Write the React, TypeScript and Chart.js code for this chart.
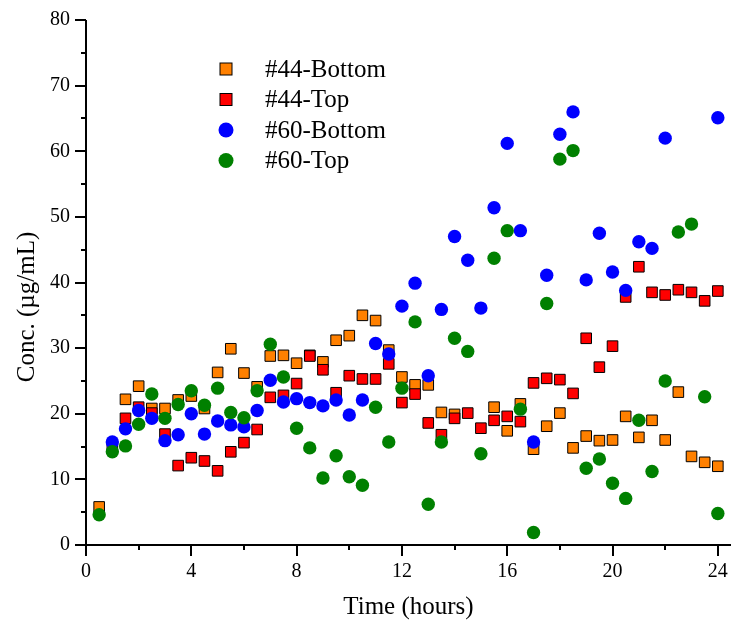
import React, { useEffect, useRef } from "react";
import { Chart, registerables } from "chart.js";

Chart.register(...registerables);

const times = [
  0.5, 1, 1.5, 2, 2.5, 3, 3.5, 4, 4.5, 5, 5.5, 6, 6.5, 7, 7.5, 8,
  8.5, 9, 9.5, 10, 10.5, 11, 11.5, 12, 12.5, 13, 13.5, 14, 14.5, 15, 15.5, 16,
  16.5, 17, 17.5, 18, 18.5, 19, 19.5, 20, 20.5, 21, 21.5, 22, 22.5, 23, 23.5, 24,
];

const bottom44 = [
  5.8, 15.0, 22.2, 24.2, 20.8, 20.8, 22.1, 22.7, 20.8, 26.3, 29.9, 26.2, 24.1, 28.8, 28.9, 27.7,
  28.9, 27.9, 31.2, 31.9, 35.0, 34.2, 29.7, 25.6, 24.4, 24.4, 20.2, 19.9, null, null, 21.0, 17.4,
  21.5, 14.6, 18.1, 20.1, 14.8, 16.6, 15.9, 16.0, 19.6, 16.4, 19.0, 16.0, 23.3, 13.5, 12.6, 12.0,
];

const top44 = [
  null, null, 19.3, 21.0, 20.1, 16.9, 12.1, 13.3, 12.8, 11.3, 14.2, 15.6, 17.6, 22.5, 22.8, 24.6,
  28.8, 26.7, 23.2, 25.8, 25.3, 25.3, 27.6, 21.7, 23.0, 18.6, 16.8, 19.3, 20.1, 17.8, 19.0, 19.6,
  18.8, 24.7, 25.4, 25.2, 23.1, 31.5, 27.1, 30.3, 37.8, 42.4, 38.5, 38.1, 38.9, 38.5, 37.2, 38.7,
];

const bottom60 = [
  null, 15.7, 17.7, 20.5, 19.3, 15.9, 16.8, 20.0, 16.9, 18.9, 18.3, 18.0, 20.5, 25.1, 21.8, 22.3,
  21.7, 21.2, 22.1, 19.8, 22.1, 30.7, 29.1, 36.4, 39.9, 25.8, 35.9, 47.0, 43.4, 36.1, 51.4, 61.2,
  47.9, 15.7, 41.1, 62.6, 66.0, 40.4, 47.5, 41.6, 38.8, 46.2, 45.2, 62.0, null, null, null, 65.1,
];

const top60 = [
  4.6, 14.2, 15.1, 18.4, 23.0, 19.3, 21.4, 23.5, 21.3, 23.9, 20.2, 19.4, 23.5, 30.6, 25.6, 17.8,
  14.8, 10.2, 13.6, 10.4, 9.1, 21.0, 15.7, 23.9, 34.0, 6.2, 15.7, 31.5, 29.5, 13.9, 43.7, 47.9,
  20.7, 1.9, 36.8, 58.8, 60.1, 11.7, 13.1, 9.4, 7.1, 19.0, 11.2, 25.0, 47.7, 48.9, 22.6, 4.8,
];

const seriesNames = ["#44-Bottom", "#44-Top", "#60-Bottom", "#60-Top"];
const seriesColors = ["#FF8000", "#FF0000", "#0000FF", "#008000"];
const seriesStyles = ["rect", "rect", "circle", "circle"];

const xTickMajor = [0, 4, 8, 12, 16, 20, 24];
const xTickMinor = [2, 6, 10, 14, 18, 22];
const yTickMajor = [0, 10, 20, 30, 40, 50, 60, 70, 80];
const yTickMinor = [5, 15, 25, 35, 45, 55, 65, 75];

const xTitle = "Time (hours)";
const yTitle = "Conc. (\u00b5g/mL)";

const FONT = '"Liberation Serif", "Times New Roman", serif';

function toPoints(values: (number | null)[]) {
  const pts: { x: number; y: number }[] = [];
  values.forEach((v, i) => {
    if (v !== null) pts.push({ x: times[i], y: v });
  });
  return pts;
}

const axesPlugin = {
  id: "originAxes",
  afterDraw(chart: any) {
    const ctx = chart.ctx;
    const xs = chart.scales.x;
    const ys = chart.scales.y;
    const area = chart.chartArea;
    ctx.save();
    ctx.strokeStyle = "#000";
    ctx.lineWidth = 2;
    ctx.lineCap = "butt";
    ctx.beginPath();
    ctx.moveTo(area.left, area.top);
    ctx.lineTo(area.left, area.bottom + 1);
    ctx.moveTo(area.left - 1, area.bottom);
    ctx.lineTo(area.right, area.bottom);
    ctx.stroke();
    ctx.beginPath();
    xTickMajor.forEach((v) => {
      const px = Math.round(xs.getPixelForValue(v));
      ctx.moveTo(px, area.bottom);
      ctx.lineTo(px, area.bottom + 11);
    });
    xTickMinor.forEach((v) => {
      const px = Math.round(xs.getPixelForValue(v));
      ctx.moveTo(px, area.bottom);
      ctx.lineTo(px, area.bottom + 5);
    });
    yTickMajor.forEach((v) => {
      const py = Math.round(ys.getPixelForValue(v));
      ctx.moveTo(area.left, py);
      ctx.lineTo(area.left - 11, py);
    });
    yTickMinor.forEach((v) => {
      const py = Math.round(ys.getPixelForValue(v));
      ctx.moveTo(area.left, py);
      ctx.lineTo(area.left - 5, py);
    });
    ctx.stroke();

    // y-axis title
    ctx.translate(27, 307);
    ctx.rotate(-Math.PI / 2);
    ctx.fillStyle = "#000";
    ctx.font = `25px ${FONT}`;
    ctx.textAlign = "center";
    ctx.textBaseline = "middle";
    ctx.fillText(yTitle, 0, 0);
    ctx.restore();
  },
};

const legendPlugin = {
  id: "insideLegend",
  afterDatasetsDraw(chart: any) {
    const ctx = chart.ctx;
    const rowsY = [69, 99.5, 130, 160.5];
    const markerX = 226;
    const textX = 265;
    ctx.save();
    chart.data.datasets.forEach((ds: any, i: number) => {
      const y = rowsY[i];
      ctx.fillStyle = ds.backgroundColor;
      if (ds.pointStyle === "rect") {
        const s = 12;
        ctx.fillRect(markerX - s / 2, y - s / 2, s, s);
        ctx.strokeStyle = "#000";
        ctx.lineWidth = 1;
        ctx.strokeRect(markerX - s / 2, y - s / 2, s, s);
      } else {
        ctx.beginPath();
        ctx.arc(markerX, y, 7.5, 0, Math.PI * 2);
        ctx.fill();
      }
      ctx.fillStyle = "#000";
      ctx.font = `25px ${FONT}`;
      ctx.textAlign = "left";
      ctx.textBaseline = "middle";
      ctx.fillText(ds.label, textX, y + 1);
    });
    ctx.restore();
  },
};

function zeroPadding(scale: any) {
  scale.paddingTop = 0;
  scale.paddingBottom = 0;
  scale.paddingLeft = 0;
  scale.paddingRight = 0;
}

export default function App() {
  const canvasRef = useRef<HTMLCanvasElement | null>(null);

  useEffect(() => {
    const canvas = canvasRef.current;
    if (!canvas) return;
    const seriesValues = [bottom44, top44, bottom60, top60];
    const datasets = seriesValues.map((vals, i) => ({
      label: seriesNames[i],
      data: toPoints(vals),
      pointStyle: seriesStyles[i],
      backgroundColor: seriesColors[i],
      borderColor: seriesStyles[i] === "rect" ? "#000" : seriesColors[i],
      pointBackgroundColor: seriesColors[i],
      pointBorderColor: seriesStyles[i] === "rect" ? "#000" : seriesColors[i],
      pointBorderWidth: seriesStyles[i] === "rect" ? 1 : 0,
      pointRadius: seriesStyles[i] === "rect" ? 7.5 : 6.7,
      pointHoverRadius: seriesStyles[i] === "rect" ? 7.5 : 6.7,
      showLine: false,
      clip: false,
      order: 4 - i,
    }));

    const chart = new Chart(canvas, {
      type: "scatter",
      data: { datasets },
      options: {
        animation: false,
        responsive: false,
        maintainAspectRatio: false,
        events: [],
        layout: { autoPadding: false, padding: { left: 0, right: 2, top: 20, bottom: 0 } },
        plugins: {
          legend: { display: false },
          tooltip: { enabled: false },
        },
        scales: {
          x: {
            type: "linear",
            min: 0,
            max: 24.5,
            grid: { display: false, drawTicks: false },
            border: { display: false },
            ticks: {
              stepSize: 4,
              includeBounds: false,
              autoSkip: false,
              maxRotation: 0,
              padding: 15,
              color: "#000",
              font: { family: FONT, size: 20 },
              callback: (v: any) => (xTickMajor.includes(Number(v)) ? String(v) : ""),
            },
            title: {
              display: true,
              text: xTitle,
              color: "#000",
              font: { family: FONT, size: 25 },
              padding: { top: 0, bottom: 2 },
            },
            afterFit: (scale: any) => {
              scale.height = 79;
              zeroPadding(scale);
            },
          },
          y: {
            type: "linear",
            min: 0,
            max: 80,
            grid: { display: false, drawTicks: false },
            border: { display: false },
            ticks: {
              stepSize: 10,
              autoSkip: false,
              padding: 16,
              color: "#000",
              font: { family: FONT, size: 20 },
            },
            afterFit: (scale: any) => {
              scale.width = 86;
              zeroPadding(scale);
            },
          },
        },
      },
      plugins: [axesPlugin, legendPlugin],
    });

    return () => {
      chart.destroy();
    };
  }, []);

  return (
    <div style={{ position: "fixed", left: 0, top: 0, width: 733, height: 624, background: "#fff" }}>
      <canvas ref={canvasRef} width={733} height={624} style={{ display: "block" }} />
    </div>
  );
}
